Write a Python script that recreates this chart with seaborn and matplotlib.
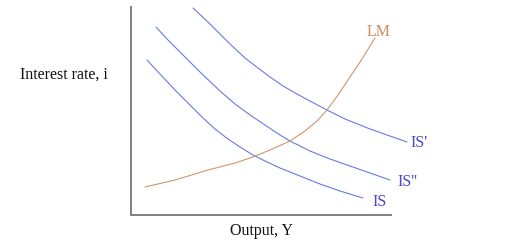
import matplotlib
matplotlib.use("Agg")
import matplotlib.pyplot as plt
import seaborn as sns
import pandas as pd

# Data (output Y on x, interest rate i on y; arbitrary units)
is1_x = [62, 79, 99, 114, 127, 139, 152, 166, 179, 194, 214, 239, 259, 276]
is1_y = [207, 191, 171, 157, 147, 138, 129, 121, 114, 106, 96, 86, 79, 73]
is2_x = [25, 37, 54, 69, 89, 104, 119, 134, 149, 159, 179, 199, 219, 239, 259]
is2_y = [188, 175, 158, 143, 124, 111, 100, 90, 80, 74, 64, 56, 49, 42, 35]
is0_x = [16, 29, 44, 59, 71, 84, 97, 109, 122, 134, 149, 169, 189, 209, 232]
is0_y = [155, 141, 125, 110, 98, 86, 76, 68, 60, 54, 47, 39, 31, 24, 17]
lm_x = [14, 44, 77, 104, 122, 139, 159, 174, 186, 196, 207, 219, 231, 244]
lm_y = [28, 35, 45, 52, 58, 65, 74, 84, 94, 105, 120, 138, 156, 177]

curve_names = ["IS'", "IS''", "IS", "LM"]
label_pos = {"IS'": (279, 72), "IS''": (266, 33), "IS": (241, 13), "LM": (236, 183)}

BLUE = "#6a7ae2"
BLUE_TXT = "#4848cc"
LM_COL = "#d0966f"
LM_TXT = "#c88a60"

frames = []
for name, xs, ys in [("IS'", is1_x, is1_y), ("IS''", is2_x, is2_y),
                     ("IS", is0_x, is0_y), ("LM", lm_x, lm_y)]:
    frames.append(pd.DataFrame({"Y": xs, "i": ys, "curve": name}))
df = pd.concat(frames, ignore_index=True)

sns.set_style("white")
plt.rcParams["font.family"] = ["Liberation Serif", "DejaVu Serif"]

W, H = 523, 246
fig = plt.figure(figsize=(W / 100, H / 100), dpi=100)
ax = fig.add_axes([131 / W, (H - 215) / H, 260 / W, 208 / H])

palette = {"IS'": BLUE, "IS''": BLUE, "IS": BLUE, "LM": LM_COL}
sns.lineplot(data=df, x="Y", y="i", hue="curve", units="curve",
             estimator=None, sort=False, palette=palette, legend=False,
             linewidth=0.8, ax=ax)
for ln in ax.lines:
    ln.set_clip_on(False)

ax.set_xlim(0, 260)
ax.set_ylim(0, 208)
ax.set_xticks([])
ax.set_yticks([])
ax.set_xlabel("")
ax.set_ylabel("")
for s in ["top", "right"]:
    ax.spines[s].set_visible(False)
for s in ["left", "bottom"]:
    ax.spines[s].set_color("#808080")
    ax.spines[s].set_linewidth(1.4)

for name in curve_names:
    x, y = label_pos[name]
    ax.text(x, y, name, color=LM_TXT if name == "LM" else BLUE_TXT,
            fontsize=11.5, ha="left", va="center", clip_on=False)

fig.text(20 / W, 1 - 75 / H, "Interest rate, i", fontsize=11.5,
         ha="left", va="center", color="#111111")
fig.text(262 / W, 1 - 231 / H, "Output, Y", fontsize=11.5,
         ha="center", va="center", color="#111111")

fig.savefig("out.png", dpi=100)
